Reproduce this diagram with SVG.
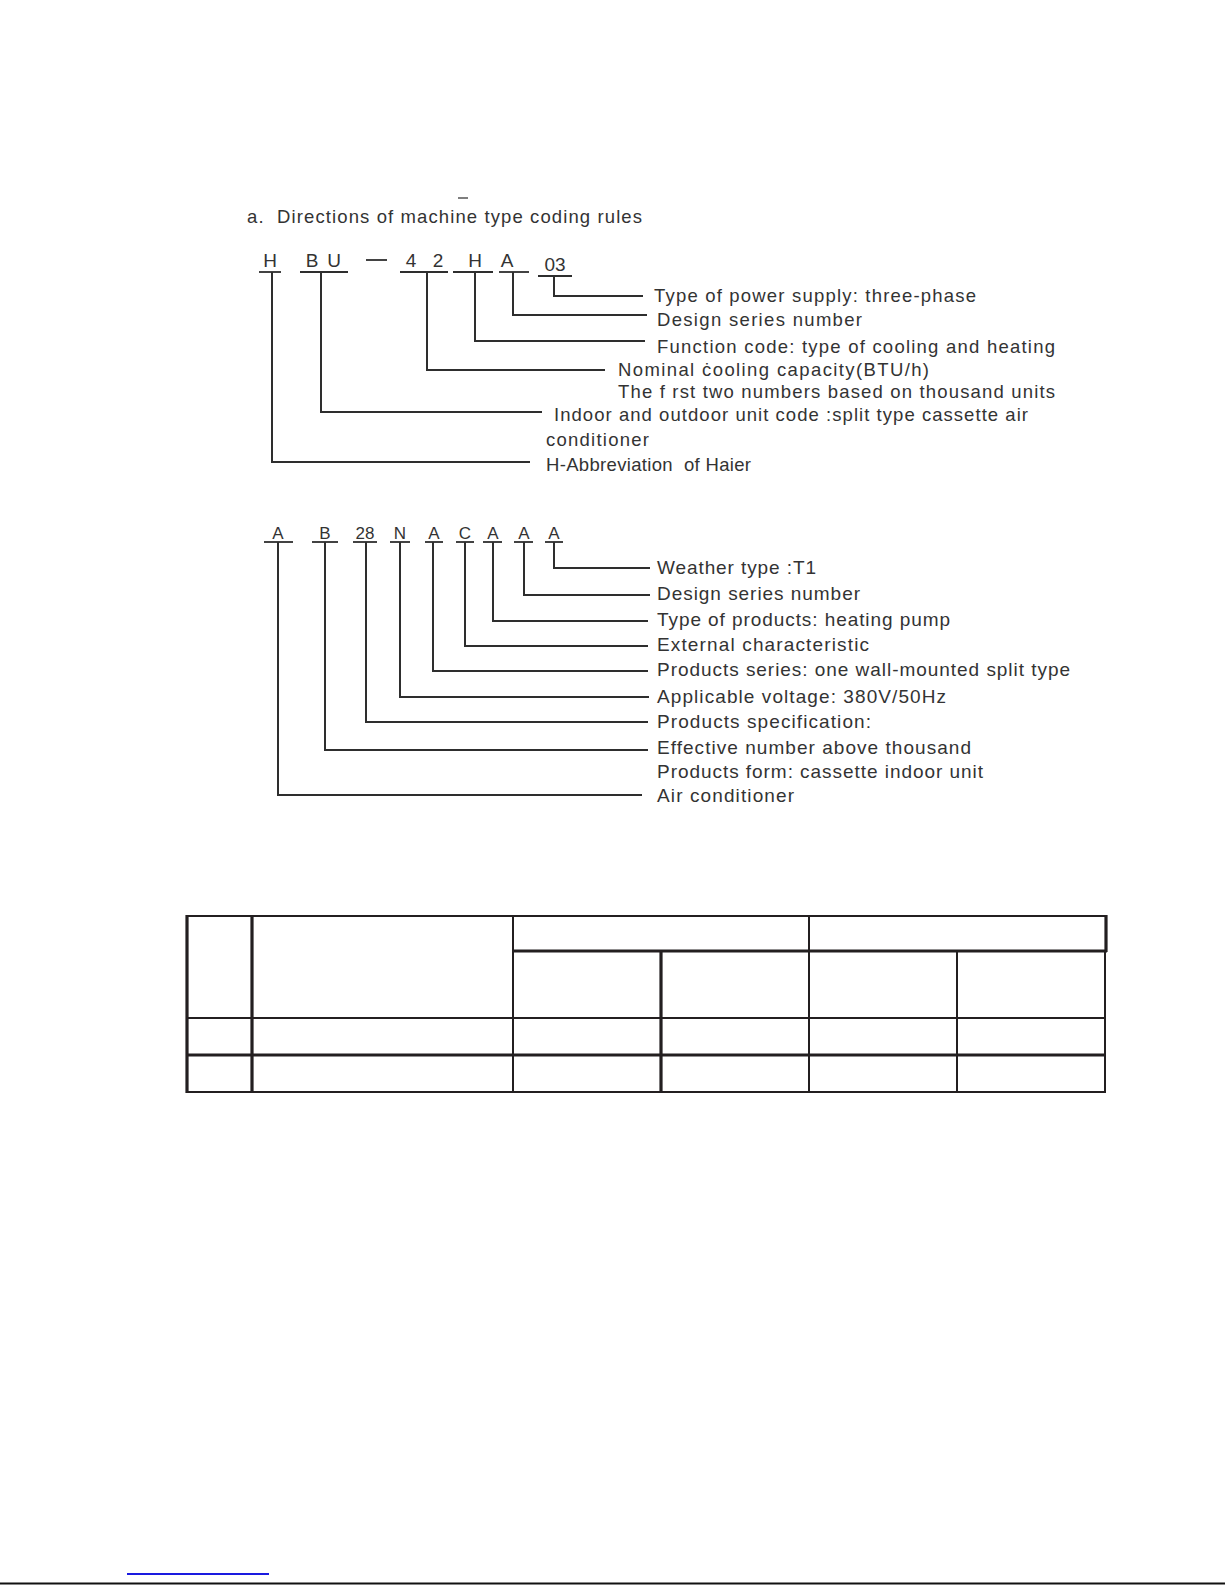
<svg xmlns="http://www.w3.org/2000/svg" width="1225" height="1585" viewBox="0 0 1225 1585">
<style>
text{font-family:"Liberation Sans",Arial,sans-serif;fill:#333}
.t1{font-size:18.5px}
.t2{font-size:19px}
.c1{font-size:19px}
.c2{font-size:17px}
.ld{fill:none;stroke:#2e2e2e;stroke-width:2}
.ul{stroke:#2e2e2e;stroke-width:1.8}
.tn{stroke:#231f20;stroke-width:2;fill:none}
.tk{stroke:#231f20;stroke-width:3.2;fill:none}
</style>
<rect width="1225" height="1585" fill="#fff"/>
<g id="title">
<line x1="458" y1="198" x2="468" y2="198" stroke="#555" stroke-width="1.5"/>
<text x="247" y="223" class="t1" textLength="395" lengthAdjust="spacing">a.&#160; Directions of machine type coding rules</text>
</g>
<g id="code1">
<text x="270" y="267" class="c1" text-anchor="middle">H</text>
<text x="312" y="267" class="c1" text-anchor="middle">B</text>
<text x="334" y="267" class="c1" text-anchor="middle">U</text>
<line x1="366" y1="260" x2="387" y2="260" class="ul"/>
<text x="411" y="267" class="c1" text-anchor="middle">4</text>
<text x="438" y="267" class="c1" text-anchor="middle">2</text>
<text x="475" y="267" class="c1" text-anchor="middle">H</text>
<text x="507" y="267" class="c1" text-anchor="middle">A</text>
<text x="555" y="271" class="c1" text-anchor="middle">03</text>
<line x1="259" y1="272" x2="281" y2="272" class="ul"/>
<line x1="300" y1="272" x2="348" y2="272" class="ul"/>
<line x1="400" y1="272" x2="448" y2="272" class="ul"/>
<line x1="453" y1="272" x2="493" y2="272" class="ul"/>
<line x1="499" y1="272" x2="529" y2="272" class="ul"/>
<line x1="538" y1="276" x2="572" y2="276" class="ul"/>
</g>
<g id="labels1">
<text x="654" y="302" class="t1" textLength="322" lengthAdjust="spacing">Type of power supply: three-phase</text>
<text x="657" y="326" class="t1" textLength="205" lengthAdjust="spacing">Design series number</text>
<text x="657" y="353" class="t1" textLength="398" lengthAdjust="spacing">Function code: type of cooling and heating</text>
<text x="618" y="376" class="t1" textLength="311" lengthAdjust="spacing">Nominal ċooling capacity(BTU/h)</text>
<text x="618" y="398" class="t1" textLength="437" lengthAdjust="spacing">The f rst two numbers based on thousand units</text>
<text x="554" y="421" class="t1" textLength="474" lengthAdjust="spacing">Indoor and outdoor unit code :split type cassette air</text>
<text x="546" y="446" class="t1" textLength="103" lengthAdjust="spacing">conditioner</text>
<text x="546" y="471" class="t1" textLength="205" lengthAdjust="spacing">H-Abbreviation&#160; of Haier</text>
</g>
<g id="code2">
<text x="278" y="539" class="c2" text-anchor="middle">A</text>
<text x="325" y="539" class="c2" text-anchor="middle">B</text>
<text x="365" y="539" class="c2" text-anchor="middle">28</text>
<text x="400" y="539" class="c2" text-anchor="middle">N</text>
<text x="434" y="539" class="c2" text-anchor="middle">A</text>
<text x="465" y="539" class="c2" text-anchor="middle">C</text>
<text x="493" y="539" class="c2" text-anchor="middle">A</text>
<text x="524" y="539" class="c2" text-anchor="middle">A</text>
<text x="554" y="539" class="c2" text-anchor="middle">A</text>
<line x1="264" y1="542" x2="293" y2="542" class="ul"/>
<line x1="312" y1="542" x2="338" y2="542" class="ul"/>
<line x1="353" y1="542" x2="377" y2="542" class="ul"/>
<line x1="390" y1="542" x2="410" y2="542" class="ul"/>
<line x1="425" y1="542" x2="443" y2="542" class="ul"/>
<line x1="456" y1="542" x2="474" y2="542" class="ul"/>
<line x1="483" y1="542" x2="502" y2="542" class="ul"/>
<line x1="514" y1="542" x2="533" y2="542" class="ul"/>
<line x1="545" y1="542" x2="563" y2="542" class="ul"/>
</g>
<g id="labels2">
<text x="657" y="574" class="t2" textLength="159" lengthAdjust="spacing">Weather type :T1</text>
<text x="657" y="600" class="t2" textLength="203" lengthAdjust="spacing">Design series number</text>
<text x="657" y="626" class="t2" textLength="293" lengthAdjust="spacing">Type of products: heating pump</text>
<text x="657" y="651" class="t2" textLength="212" lengthAdjust="spacing">External characteristic</text>
<text x="657" y="676" class="t2" textLength="413" lengthAdjust="spacing">Products series: one wall-mounted split type</text>
<text x="657" y="703" class="t2" textLength="289" lengthAdjust="spacing">Applicable voltage: 380V/50Hz</text>
<text x="657" y="728" class="t2" textLength="214" lengthAdjust="spacing">Products specification:</text>
<text x="657" y="754" class="t2" textLength="314" lengthAdjust="spacing">Effective number above thousand</text>
<text x="657" y="778" class="t2" textLength="326" lengthAdjust="spacing">Products form: cassette indoor unit</text>
<text x="657" y="802" class="t2" textLength="137" lengthAdjust="spacing">Air conditioner</text>
</g>
<g id="connectors">
<path class="ld" d="M272 272V462H530"/>
<path class="ld" d="M321 272V412H542"/>
<path class="ld" d="M427 272V370H605"/>
<path class="ld" d="M475 272V341H645"/>
<path class="ld" d="M513 272V315H647"/>
<path class="ld" d="M554 276V296H643"/>
<path class="ld" d="M278 542V795H642"/>
<path class="ld" d="M325 542V750H648"/>
<path class="ld" d="M366 542V722H648"/>
<path class="ld" d="M400 542V697H649"/>
<path class="ld" d="M433 542V671H648"/>
<path class="ld" d="M465 542V646H648"/>
<path class="ld" d="M493 542V621H648"/>
<path class="ld" d="M524 542V595H650"/>
<path class="ld" d="M554 542V568H650"/>
</g>
<g id="table">
<line class="tn" x1="186" y1="916" x2="1107" y2="916"/>
<line class="tk" x1="512" y1="951" x2="1107" y2="951"/>
<line class="tn" x1="186" y1="1018" x2="1106" y2="1018"/>
<line class="tk" x1="186" y1="1055" x2="1106" y2="1055"/>
<line class="tn" x1="186" y1="1092" x2="1106" y2="1092"/>
<line class="tk" x1="187" y1="915" x2="187" y2="1093"/>
<line class="tk" x1="252" y1="915" x2="252" y2="1093"/>
<line class="tn" x1="513" y1="915" x2="513" y2="1093"/>
<line class="tk" x1="661" y1="951" x2="661" y2="1093"/>
<line class="tn" x1="809" y1="915" x2="809" y2="1093"/>
<line class="tn" x1="957" y1="951" x2="957" y2="1093"/>
<line class="tk" x1="1106" y1="915" x2="1106" y2="952"/>
<line class="tn" x1="1105" y1="951" x2="1105" y2="1093"/>
</g>
<g id="footer">
<line x1="127" y1="1574" x2="269" y2="1574" stroke="#1a1ae0" stroke-width="2"/>
<line x1="0" y1="1583.5" x2="1225" y2="1583.5" stroke="#111" stroke-width="2"/>
</g>
</svg>
